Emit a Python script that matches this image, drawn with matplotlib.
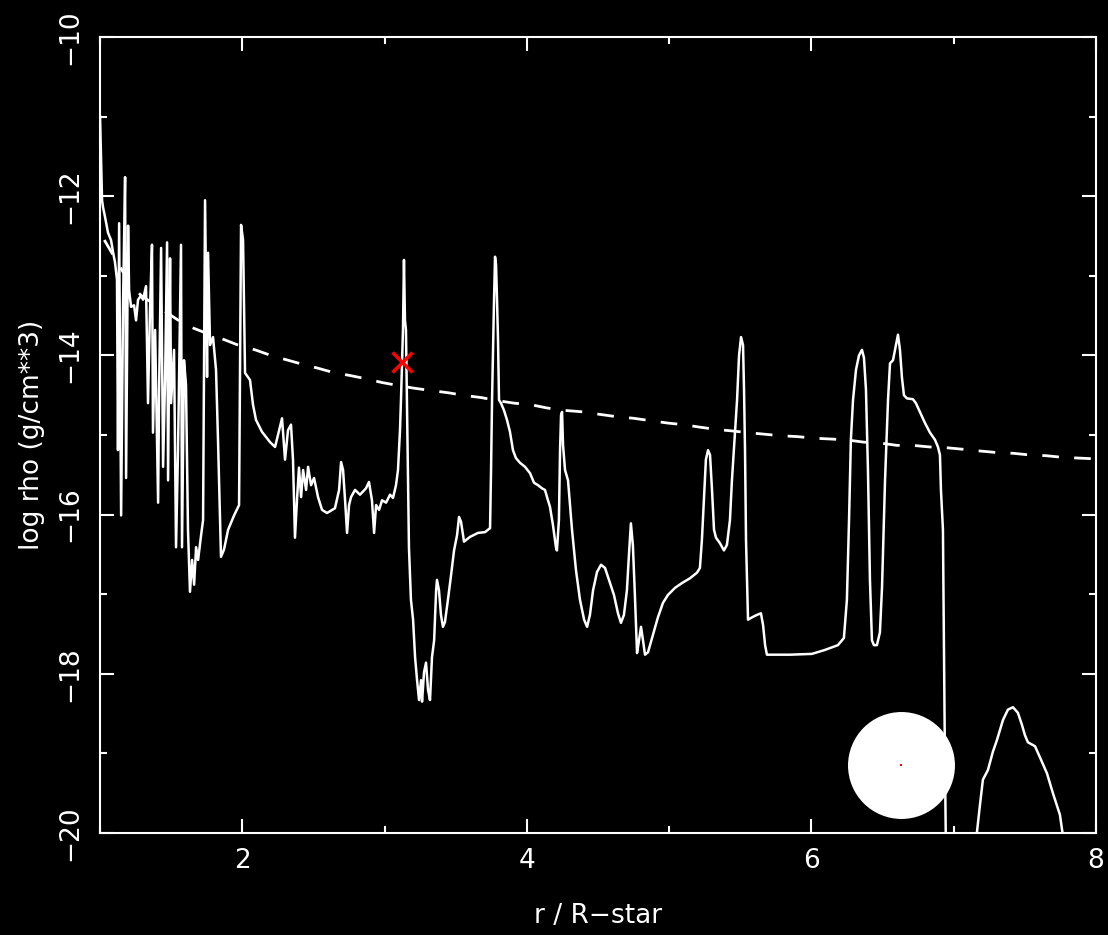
import matplotlib
matplotlib.use("Agg")
import matplotlib.pyplot as plt
from matplotlib.ticker import MultipleLocator

# density profile, log rho vs r / R-star
r_wind = [
    1.000, 1.014, 1.021, 1.035, 1.056, 1.077, 1.091, 1.105, 1.119, 1.126,
    1.134, 1.148, 1.162, 1.176, 1.183, 1.197, 1.204, 1.218, 1.239, 1.253,
    1.267, 1.288, 1.302, 1.323, 1.337, 1.351, 1.365, 1.372, 1.387, 1.408,
    1.415, 1.429, 1.443, 1.457, 1.471, 1.478, 1.492, 1.499, 1.520, 1.534,
    1.548, 1.569, 1.576, 1.590, 1.604, 1.618, 1.632, 1.647, 1.661, 1.675,
    1.689, 1.710, 1.724, 1.738, 1.752, 1.759, 1.773, 1.794, 1.815, 1.829,
    1.850, 1.871, 1.900, 1.942, 1.977, 1.991, 2.005, 2.019, 2.054, 2.075,
    2.096, 2.138, 2.195, 2.230, 2.279, 2.293, 2.300, 2.321, 2.342, 2.356,
    2.370, 2.384, 2.398, 2.413, 2.427, 2.448, 2.462, 2.483, 2.504, 2.532,
    2.560, 2.595, 2.651, 2.680, 2.694, 2.708, 2.722, 2.736, 2.750, 2.764,
    2.792, 2.827, 2.869, 2.890, 2.911, 2.926, 2.940, 2.961, 2.982, 3.010,
    3.038, 3.059, 3.080, 3.094, 3.108, 3.115, 3.129, 3.136, 3.143, 3.150,
    3.157, 3.164, 3.171, 3.185, 3.200, 3.214, 3.228, 3.242, 3.256, 3.263,
    3.277, 3.291, 3.305, 3.319, 3.333, 3.348, 3.362, 3.368, 3.382, 3.396,
    3.410, 3.424, 3.445, 3.467, 3.488, 3.509, 3.523, 3.537, 3.558, 3.600,
    3.656, 3.706, 3.741, 3.748, 3.755, 3.769, 3.776, 3.783, 3.790, 3.797,
    3.804, 3.818, 3.839, 3.860, 3.881, 3.902, 3.923, 3.952, 3.987, 4.022,
    4.050, 4.078, 4.106, 4.127, 4.148, 4.162, 4.183, 4.204, 4.211, 4.225,
    4.233, 4.240, 4.247, 4.254, 4.268, 4.289, 4.317, 4.345, 4.373, 4.402,
    4.423, 4.443, 4.465, 4.493, 4.521, 4.549, 4.577, 4.612, 4.640, 4.661,
    4.682, 4.703, 4.717, 4.731, 4.745, 4.759, 4.774, 4.788, 4.802, 4.816,
    4.830, 4.851, 4.886, 4.921, 4.956, 4.991, 5.041, 5.090, 5.146, 5.195,
    5.216, 5.230, 5.244, 5.258, 5.273, 5.287, 5.301, 5.315, 5.329, 5.357,
    5.385, 5.406, 5.427, 5.441, 5.463, 5.477, 5.491, 5.505, 5.519, 5.526,
    5.533, 5.540, 5.554, 5.583, 5.617, 5.645, 5.660, 5.674, 5.687, 5.849,
    6.003, 6.095, 6.186, 6.228, 6.249, 6.264, 6.277, 6.292, 6.313, 6.334,
    6.355, 6.369, 6.383, 6.397, 6.411, 6.425, 6.439, 6.460, 6.481, 6.496,
    6.517, 6.538, 6.552, 6.573, 6.594, 6.608, 6.622, 6.636, 6.650, 6.671,
    6.713, 6.734, 6.762, 6.798, 6.833, 6.868, 6.889, 6.903, 6.910, 6.924,
    6.931, 6.938, 6.945, 7.050, 7.140, 7.163, 7.184, 7.205, 7.240, 7.275,
    7.304, 7.346, 7.381, 7.416, 7.451, 7.479, 7.500, 7.521, 7.571, 7.606,
    7.655, 7.697, 7.746, 7.767, 7.788,
]
logrho_wind = [
    -11.00, -12.05, -12.14, -12.26, -12.46, -12.55, -12.70, -12.83, -13.05, -15.19,
    -12.34, -16.01, -13.30, -11.76, -15.54, -12.37, -13.18, -13.39, -13.37, -13.56,
    -13.30, -13.25, -13.30, -13.13, -14.60, -13.43, -12.61, -14.97, -13.68, -15.85,
    -14.43, -12.65, -15.40, -14.31, -12.58, -15.57, -12.78, -14.60, -13.93, -16.41,
    -15.19, -12.61, -16.41, -14.06, -14.37, -16.19, -16.97, -16.57, -16.88, -16.41,
    -16.57, -16.26, -16.07, -12.05, -14.27, -12.71, -13.87, -13.77, -14.18, -15.06,
    -16.53, -16.44, -16.19, -16.01, -15.88, -12.36, -12.55, -14.22, -14.31, -14.62,
    -14.81, -14.96, -15.09, -15.15, -14.79, -15.13, -15.31, -14.94, -14.87, -15.31,
    -16.29, -15.82, -15.41, -15.78, -15.44, -15.69, -15.40, -15.63, -15.54, -15.78,
    -15.94, -15.98, -15.92, -15.69, -15.34, -15.44, -15.82, -16.23, -15.88, -15.78,
    -15.69, -15.75, -15.67, -15.59, -15.82, -16.23, -15.88, -15.94, -15.82, -15.85,
    -15.75, -15.79, -15.63, -15.44, -14.94, -14.56, -13.68, -12.80, -13.56, -13.68,
    -14.56, -15.44, -16.41, -17.07, -17.32, -17.79, -18.08, -18.33, -18.08, -18.35,
    -17.98, -17.86, -18.20, -18.33, -17.79, -17.58, -16.95, -16.82, -16.95, -17.26,
    -17.41, -17.35, -17.07, -16.76, -16.45, -16.26, -16.03, -16.09, -16.34, -16.28,
    -16.23, -16.22, -16.17, -15.44, -14.56, -13.30, -12.76, -12.86, -13.30, -13.81,
    -14.56, -14.60, -14.69, -14.81, -14.96, -15.19, -15.29, -15.35, -15.40, -15.48,
    -15.60, -15.63, -15.67, -15.69, -15.82, -15.90, -16.13, -16.41, -16.45, -16.07,
    -15.19, -14.75, -14.71, -15.13, -15.44, -15.57, -16.19, -16.70, -17.07, -17.32,
    -17.41, -17.26, -16.95, -16.72, -16.63, -16.67, -16.82, -17.01, -17.24, -17.36,
    -17.26, -16.95, -16.51, -16.11, -16.39, -17.01, -17.74, -17.58, -17.41, -17.58,
    -17.76, -17.73, -17.51, -17.29, -17.11, -17.01, -16.92, -16.86, -16.80, -16.73,
    -16.67, -16.32, -15.82, -15.31, -15.19, -15.25, -15.69, -16.19, -16.29, -16.36,
    -16.45, -16.38, -16.07, -15.57, -14.94, -14.56, -14.00, -13.77, -13.87, -14.43,
    -15.19, -16.32, -17.32, -17.29, -17.26, -17.24, -17.39, -17.64, -17.76, -17.76,
    -17.75, -17.70, -17.64, -17.55, -17.07, -16.07, -15.06, -14.56, -14.18, -14.00,
    -13.93, -14.03, -14.43, -15.44, -16.82, -17.58, -17.64, -17.64, -17.48, -16.91,
    -15.57, -14.56, -14.10, -14.06, -13.87, -13.74, -13.93, -14.28, -14.50, -14.54,
    -14.55, -14.60, -14.71, -14.85, -14.97, -15.06, -15.15, -15.25, -15.69, -16.19,
    -17.70, -19.08, -20.21, -20.60, -20.30, -19.99, -19.65, -19.33, -19.21, -18.98,
    -18.83, -18.58, -18.45, -18.42, -18.49, -18.64, -18.77, -18.86, -18.91, -19.05,
    -19.25, -19.50, -19.77, -20.03, -20.34,
]

# smooth reference model (dashed)
r_model = [
    1.03, 1.21, 1.29, 1.56, 1.66, 1.76, 1.87, 1.97, 2.09, 2.20,
    2.30, 2.42, 2.53, 2.65, 2.75, 2.86, 2.98, 3.07, 3.20, 3.32,
    3.45, 3.55, 3.68, 3.80, 3.91, 4.03, 4.14, 4.26, 4.40, 4.51,
    4.63, 4.75, 4.87, 4.99, 5.10, 5.21, 5.33, 5.45, 5.55, 5.67,
    5.79, 5.90, 6.02, 6.13, 6.24, 6.37, 6.48, 6.60, 6.71, 6.83,
    6.95, 7.07, 7.18, 7.30, 7.42, 7.53, 7.65, 7.76, 7.88, 8.00,
]
logrho_model = [
    -12.55, -13.10, -13.25, -13.57, -13.66, -13.73, -13.80, -13.87, -13.93, -14.00,
    -14.05, -14.11, -14.16, -14.22, -14.25, -14.29, -14.34, -14.37, -14.41, -14.44,
    -14.47, -14.50, -14.53, -14.57, -14.60, -14.62, -14.66, -14.69, -14.71, -14.74,
    -14.77, -14.79, -14.82, -14.85, -14.87, -14.90, -14.93, -14.95, -14.97, -14.99,
    -15.01, -15.02, -15.04, -15.05, -15.06, -15.09, -15.10, -15.13, -15.13, -15.15,
    -15.16, -15.18, -15.20, -15.22, -15.23, -15.25, -15.26, -15.28, -15.29, -15.30,
]

# current position (red cross) and the star disc
marker_r, marker_logrho = 3.122, -14.08
star_r, star_logrho = 6.63, -19.15

FONT = "DejaVu Sans"
FS = 19

fig = plt.figure(figsize=(11.08, 9.35), dpi=100, facecolor="black")
ax = fig.add_axes([0.0903, 0.1091, 0.8989, 0.8513], facecolor="black")

ax.plot(r_wind, logrho_wind, color="white", lw=1.8, zorder=3)
ax.plot(r_model, logrho_model, color="white", lw=2.0, linestyle=(0, (6, 5.5)), zorder=3)
ax.plot([marker_r], [marker_logrho], marker="x", color="red", ms=15, mew=2.5,
        linestyle="none", zorder=5)
ax.plot([star_r], [star_logrho], marker="o", color="white", ms=77, mew=0,
        linestyle="none", zorder=6)
ax.plot([star_r], [star_logrho], marker="s", color="red", ms=1.5, mew=0,
        linestyle="none", zorder=7)

ax.set_xlim(1, 8)
ax.set_ylim(-20, -10)
ax.xaxis.set_major_locator(MultipleLocator(2))
ax.xaxis.set_minor_locator(MultipleLocator(1))
ax.yaxis.set_major_locator(MultipleLocator(2))
ax.yaxis.set_minor_locator(MultipleLocator(1))

for side in ax.spines.values():
    side.set_color("white")
    side.set_linewidth(1.5)

ax.tick_params(which="both", direction="in", top=True, right=True,
               color="white", labelcolor="white", width=1.5)
ax.tick_params(which="major", length=10)
ax.tick_params(which="minor", length=5)
ax.tick_params(axis="x", pad=11)
ax.tick_params(axis="y", pad=12)

for lbl in ax.get_xticklabels():
    lbl.set_fontfamily(FONT)
    lbl.set_fontsize(FS)
for lbl in ax.get_yticklabels():
    lbl.set_fontfamily(FONT)
    lbl.set_fontsize(FS)
    lbl.set_rotation(90)
    lbl.set_va("center")

ax.set_xlabel("r / R\u2212star", color="white", fontsize=FS, family=FONT, labelpad=21)
ax.set_ylabel("log rho (g/cm**3)", color="white", fontsize=FS, family=FONT, labelpad=9)

fig.savefig("out.png", dpi=100, facecolor="black")
